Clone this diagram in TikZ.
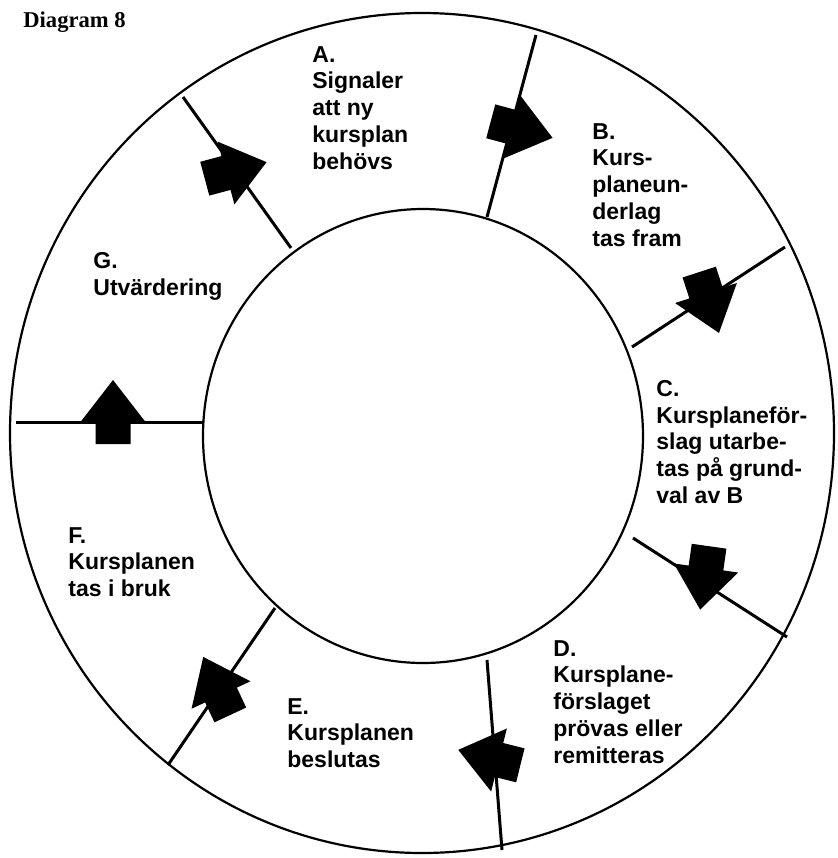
\documentclass[tikz,border=0pt]{standalone}
\usepackage{fontspec}
\setmainfont{Liberation Sans}
\newfontfamily\titlefont{Liberation Serif}

\tikzset{
	blockarrow/.pic={\fill (-22,-17.5) -- (0,-17.5) -- (0,-32.5) -- (42,0) -- (0,32.5) -- (0,17.5) -- (-22,17.5) -- cycle;},
	stage/.style={anchor=north west, inner sep=0pt, align=left, font=\bfseries\fontsize{11.5}{13.35}\selectfont},
	ray/.style={line width=1.5pt},
	ring/.style={line width=1.1pt}
}

\begin{document}
\begin{tikzpicture}[x=0.5pt, y=-0.5pt]
	\useasboundingbox (0,0) rectangle (837,858);
	\node[anchor=base west, inner sep=0pt, font=\titlefont\bfseries\fontsize{11.3}{13}\selectfont] (title) at (23,27) {Diagram 8};
	% ring
	\coordinate (c) at (422,433);
	\draw[ring] (c) ellipse [x radius=412, y radius=420];
	\draw[ring] (423,436) ellipse [x radius=220, y radius=227];
	% rays between the stages
	\coordinate (ab-in) at (487,217);  \coordinate (ab-out) at (536,35);
	\coordinate (ga-in) at (291,248);  \coordinate (ga-out) at (183,97);
	\coordinate (bc-in) at (632,347);  \coordinate (bc-out) at (785,247);
	\coordinate (cd-in) at (633,538);  \coordinate (cd-out) at (787,637);
	\coordinate (de-in) at (487,660);  \coordinate (de-out) at (502,850);
	\coordinate (ef-in) at (275,608);  \coordinate (ef-out) at (168,765);
	\coordinate (fg-in) at (204,422);  \coordinate (fg-out) at (16,422);
	\foreach \r in {ab,ga,bc,cd,de,ef,fg}
		\draw[ray] (\r-in) -- (\r-out);
	% block arrows
	\foreach \x/\y/\a in {226/173/15, 512/127/-15, 706/293/-72, 706/568/-98, 499/760/166, 221/695/115, 113/422/90}
		\pic[rotate=\a] at (\x,\y) {blockarrow};
	% stages
	\node[stage] (A) at (312,46) {A.\\Signaler\\att ny\\kursplan\\behövs};
	\node[stage] (B) at (592,123) {B.\\Kurs-\\planeun-\\derlag\\tas fram};
	\node[stage] (C) at (656,380) {C.\\Kursplaneför-\\slag utarbe-\\tas på grund-\\val av B};
	\node[stage] (D) at (553,640) {D.\\Kursplane-\\förslaget\\prövas eller\\remitteras};
	\node[stage] (E) at (287,698) {E.\\Kursplanen\\beslutas};
	\node[stage] (F) at (68,527) {F.\\Kursplanen\\tas i bruk};
	\node[stage] (G) at (93,252) {G.\\Utvärdering};
\end{tikzpicture}
\end{document}
